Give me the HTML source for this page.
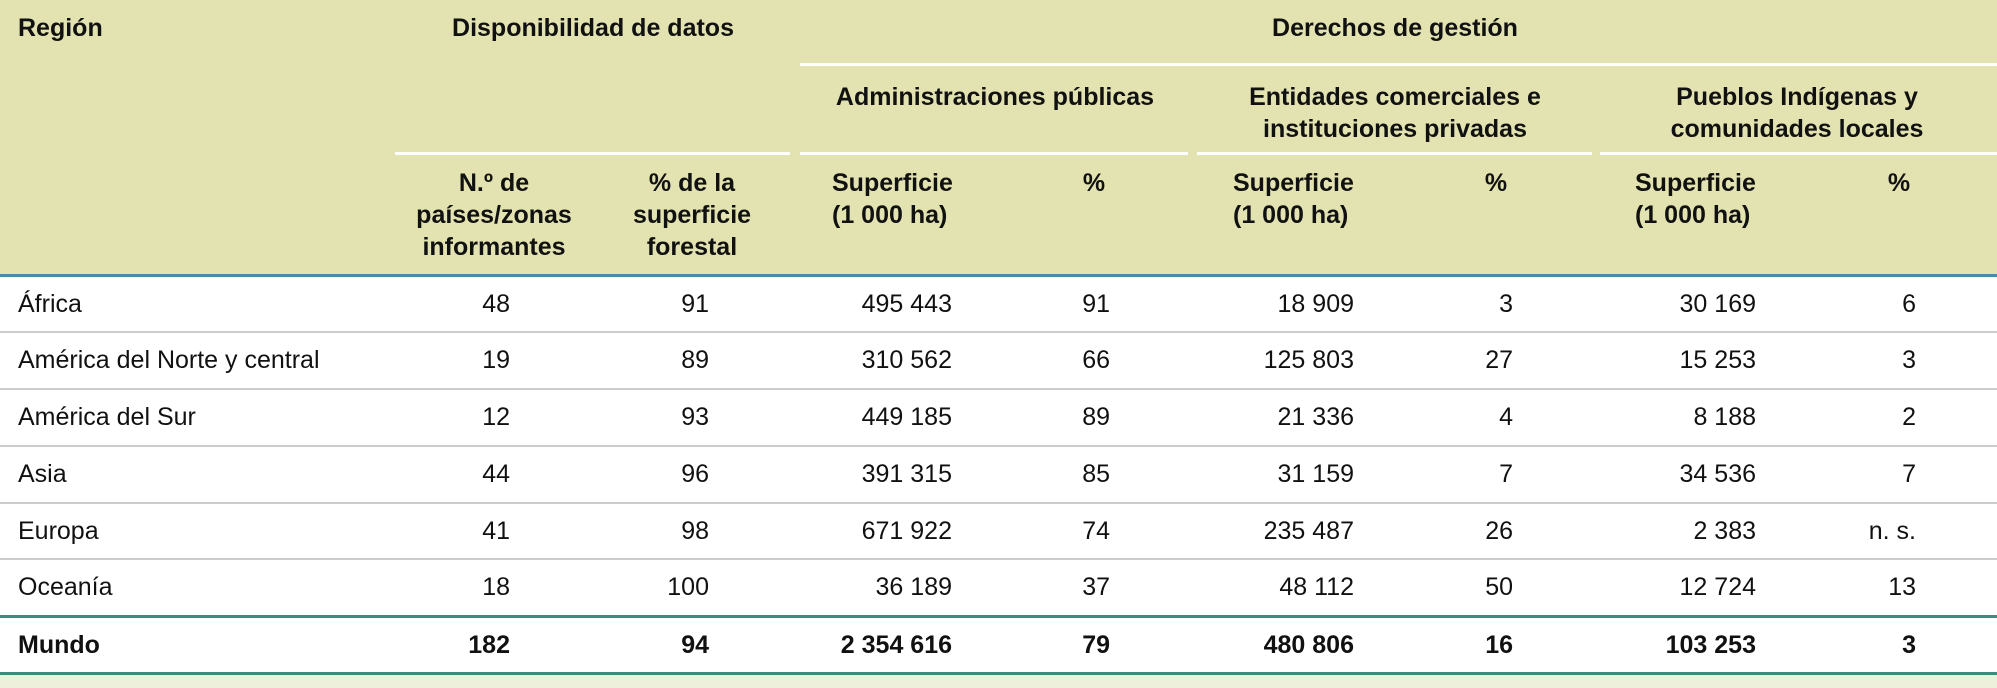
<!DOCTYPE html>
<html><head><meta charset="utf-8"><style>
body{margin:0;width:1997px;height:688px;background:#fff;overflow:hidden;font-family:"Liberation Sans Narrow","Liberation Sans",sans-serif;color:#111;position:relative}
.hd{position:absolute;left:0;top:0;width:1997px;height:274px;background:#e3e3b1}
.t{position:absolute;white-space:nowrap;font-size:25px;line-height:32px}
.b{font-weight:bold}
.c{transform:translateX(-50%);text-align:center}
.r{transform:translateX(-100%);text-align:right}
.ln{position:absolute;height:3px}
</style></head><body>
<div class="hd"></div>
<div class="ln" style="left:800px;width:1197px;top:63px;background:#fff"></div>
<div class="ln" style="left:395px;width:395px;top:152px;background:#fff"></div>
<div class="ln" style="left:800px;width:388px;top:152px;background:#fff"></div>
<div class="ln" style="left:1197px;width:395px;top:152px;background:#fff"></div>
<div class="ln" style="left:1600px;width:397px;top:152px;background:#fff"></div>
<div class="ln" style="left:0;width:1997px;top:274px;background:#4b8ca3"></div>
<div class="ln" style="left:0;width:1997px;top:331px;height:2px;background:#ccc"></div>
<div class="ln" style="left:0;width:1997px;top:388px;height:2px;background:#ccc"></div>
<div class="ln" style="left:0;width:1997px;top:445px;height:2px;background:#ccc"></div>
<div class="ln" style="left:0;width:1997px;top:502px;height:2px;background:#ccc"></div>
<div class="ln" style="left:0;width:1997px;top:558px;height:2px;background:#ccc"></div>
<div class="ln" style="left:0;width:1997px;top:615px;background:#3d8a7e"></div>
<div class="ln" style="left:0;width:1997px;top:672px;background:#3d8a7e"></div>
<div style="position:absolute;left:0;top:675px;width:1997px;height:13px;background:#eef0dc"></div>

<div class="t b" style="left:18px;top:12px">Región</div>
<div class="t b c" style="left:593px;top:12px">Disponibilidad de datos</div>
<div class="t b c" style="left:1395px;top:12px">Derechos de gestión</div>
<div class="t b c" style="left:995px;top:81px">Administraciones públicas</div>
<div class="t b c" style="left:1395px;top:81px">Entidades comerciales e<br>instituciones privadas</div>
<div class="t b c" style="left:1797px;top:81px">Pueblos Indígenas y<br>comunidades locales</div>
<div class="t b c" style="left:494px;top:167px">N.º de<br>países/zonas<br>informantes</div>
<div class="t b c" style="left:692px;top:167px">% de la<br>superficie<br>forestal</div>
<div class="t b" style="left:832px;top:167px">Superficie<br>(1 000 ha)</div>
<div class="t b c" style="left:1094px;top:167px">%</div>
<div class="t b" style="left:1233px;top:167px">Superficie<br>(1 000 ha)</div>
<div class="t b c" style="left:1496px;top:167px">%</div>
<div class="t b" style="left:1635px;top:167px">Superficie<br>(1 000 ha)</div>
<div class="t b c" style="left:1899px;top:167px">%</div>

<div id="rows"></div>
<script>
var d=[["África","48","91","495 443","91","18 909","3","30 169","6"],
["América del Norte y central","19","89","310 562","66","125 803","27","15 253","3"],
["América del Sur","12","93","449 185","89","21 336","4","8 188","2"],
["Asia","44","96","391 315","85","31 159","7","34 536","7"],
["Europa","41","98","671 922","74","235 487","26","2 383","n. s."],
["Oceanía","18","100","36 189","37","48 112","50","12 724","13"],
["Mundo","182","94","2 354 616","79","480 806","16","103 253","3"]];
var xs=[510,709,952,1110,1354,1513,1756,1916];
var tops=[288,344,401,458,515,571,629];
var h="";
d.forEach(function(r,i){var b=i==6?" b":"";
h+='<div class="t'+b+'" style="left:18px;top:'+tops[i]+'px">'+r[0]+'</div>';
for(var j=1;j<9;j++)h+='<div class="t r'+b+'" style="left:'+xs[j-1]+'px;top:'+tops[i]+'px">'+r[j]+'</div>';});
document.getElementById("rows").innerHTML=h;
</script>
</body></html>
